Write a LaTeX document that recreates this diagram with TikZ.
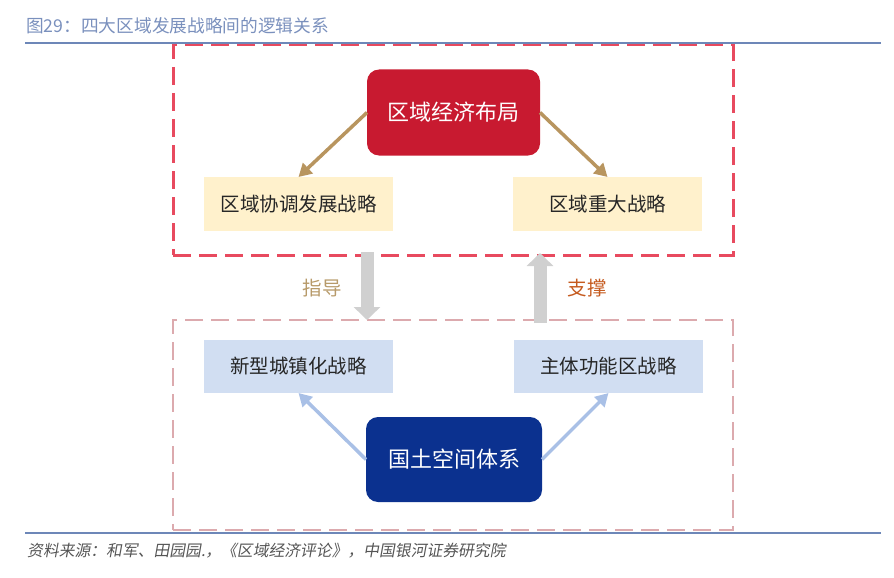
\documentclass[tikz,border=0pt]{standalone}
\usepackage{fontspec}
\setmainfont{Noto Sans CJK SC}
\newfontfamily\cjk{Noto Sans CJK SC}
\newfontfamily\cjkslant[FakeSlant=0.18]{Noto Sans CJK SC}
\usetikzlibrary{arrows.meta}
\definecolor{rulebl}{HTML}{6D87B8}
\definecolor{titlebl}{HTML}{7A90BD}
\definecolor{redbox}{HTML}{C81A30}
\definecolor{reddash}{HTML}{E84A5F}
\definecolor{pinkdash}{HTML}{DCAAAE}
\definecolor{yellowbox}{HTML}{FFF1CC}
\definecolor{lightblue}{HTML}{D1DEF2}
\definecolor{darkblue}{HTML}{0B318F}
\definecolor{brownarr}{HTML}{B8955F}
\definecolor{bluearr}{HTML}{A9C0E6}
\definecolor{grayarr}{HTML}{D0D0D0}
\definecolor{guidecol}{HTML}{B79A6A}
\definecolor{supcol}{HTML}{C55A1E}
\definecolor{footcol}{HTML}{555555}
\tikzset{
  frame/.style={draw, dash pattern=on 18pt off 8pt, inner sep=0pt, outer sep=0pt, minimum width=560pt},
  mainbox/.style={rounded corners=12pt, text=white, font=\cjk\fontsize{22}{26}\selectfont, inner sep=0pt, outer sep=0pt},
  subbox/.style={minimum width=189pt, minimum height=53pt, inner sep=0pt, outer sep=0pt, font=\cjk\fontsize{19.5}{23}\selectfont, text=black!85},
  thinarr/.style={line width=3.5pt, -{Triangle[length=13pt,width=14pt]}},
  blockarr/.style={grayarr, line width=13pt, -{Triangle[length=13pt,width=26pt]}},
  rulestyle/.style={rulebl, line width=2pt}
}
\begin{document}
\begin{tikzpicture}[x=1pt,y=-1pt]
\useasboundingbox (0,0) rectangle (894,578);
% title and rules
\node[anchor=west, inner sep=0pt, text=titlebl, font=\cjk\fontsize{17.7}{21}\selectfont] (title) at (26,26) {图29：四大区域发展战略间的逻辑关系};
\coordinate (r1a) at (25,43); \coordinate (r1b) at (881,43);
\coordinate (r2a) at (25,533); \coordinate (r2b) at (881,533);
% frames
\node[frame, draw=reddash, line width=3pt, minimum height=210pt] (topframe) at (453,150) {};
\node[frame, draw=pinkdash, line width=2.5pt, minimum height=210pt] (botframe) at (453,425) {};
\draw[rulestyle] (r1a) -- (r1b);
\draw[rulestyle] (r2a) -- (r2b);
% main nodes
\node[mainbox, fill=redbox, minimum width=173pt, minimum height=86pt] (econ) at (453.5,112.5) {区域经济布局};
\node[mainbox, fill=darkblue, minimum width=176pt, minimum height=85pt] (space) at (454,459.5) {国土空间体系};
% sub nodes
\node[subbox, fill=yellowbox, minimum height=54pt] (coord) at (298.5,204) {区域协调发展战略};
\node[subbox, fill=yellowbox, minimum height=54pt] (major) at (607.5,204) {区域重大战略};
\node[subbox, fill=lightblue] (urban) at (298.5,366.5) {新型城镇化战略};
\node[subbox, fill=lightblue] (func) at (608.5,366.5) {主体功能区战略};
% arrows
\draw[thinarr, brownarr] (econ.west) -- (coord.north);
\draw[thinarr, brownarr] (econ.east) -- (major.north);
\draw[thinarr, bluearr] (space.west) -- (urban.south);
\draw[thinarr, bluearr] (space.east) -- (func.south);
% block arrows
\draw[blockarr] ([xshift=-86pt,yshift=3pt]topframe.south) -- ([xshift=-86pt]botframe.north);
\draw[blockarr] ([xshift=87pt,yshift=-3pt]botframe.north) -- ([xshift=87pt,yshift=2pt]topframe.south);
\node[text=guidecol, font=\cjk\fontsize{19.5}{23}\selectfont] (guide) at (322,288) {指导};
\node[text=supcol, font=\cjk\fontsize{19.5}{23}\selectfont] (support) at (587,288) {支撑};
% footer
\node[anchor=west, inner sep=0pt, text=footcol, font=\cjkslant\fontsize{15.8}{19}\selectfont] (foot) at (27,551) {资料来源：和军、田园园.，《区域经济评论》，中国银河证券研究院};
\end{tikzpicture}
\end{document}
